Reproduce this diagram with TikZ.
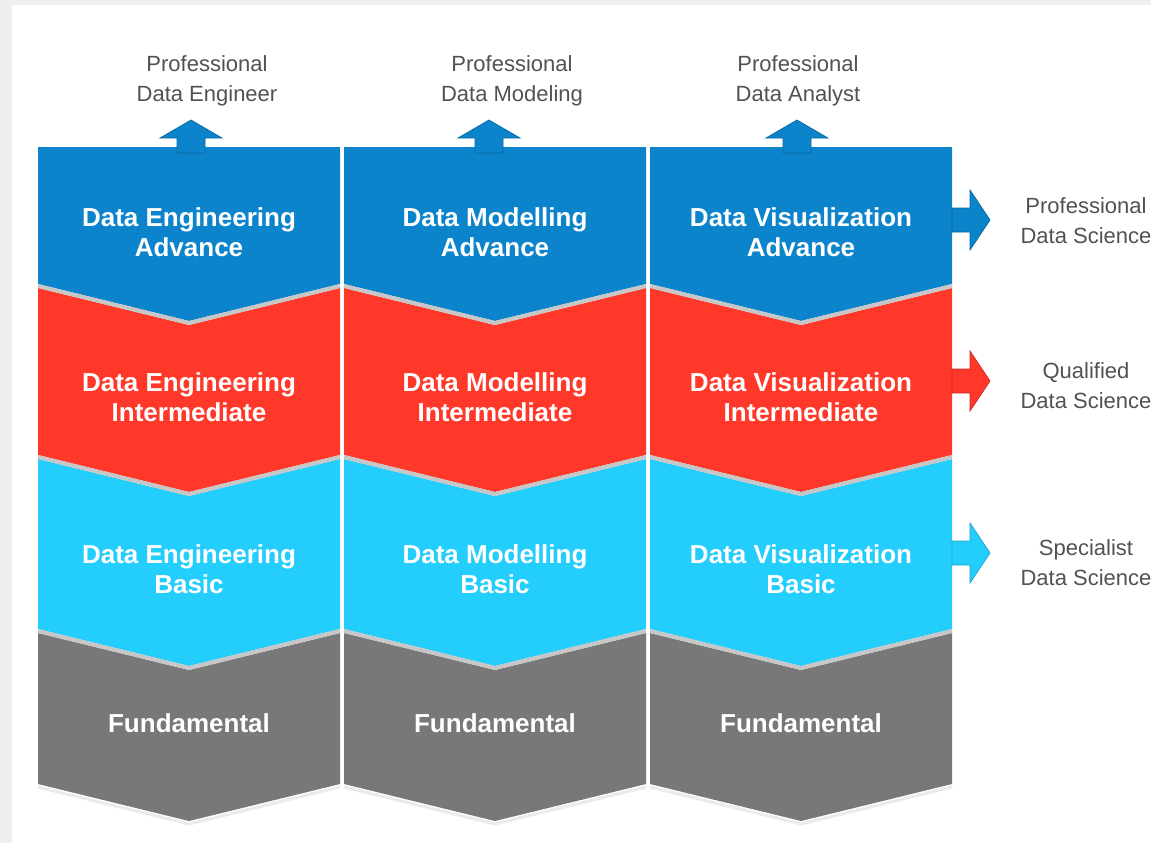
\documentclass[tikz,border=0pt]{standalone}
\usepackage{fontspec}
\setmainfont{Liberation Sans}
\usetikzlibrary{positioning}
\definecolor{advblue}{HTML}{0B84CC}
\definecolor{intred}{HTML}{FF3829}
\definecolor{basiccyan}{HTML}{23CDFC}
\definecolor{fundgray}{HTML}{787878}
\definecolor{framegray}{HTML}{EFEFEF}
\tikzset{
    level text/.style = {
      text=white, align=center, font=\fontsize{26}{30}\selectfont\bfseries,
    },
    goal text/.style = {
      text=black!68, align=center, font=\fontsize{22}{30}\selectfont,
    },
    band edge/.style = {
      black!22, line width=4pt,
    },
    block arrow/.style = {
      draw=#1!80!black, fill=#1, line width=0.7pt, line join=miter,
    },
}
% chevron band: left x, top y (sides), bottom y (sides), colour, notch depth on top
\newcommand{\chevron}[5]{%
  \fill[#4] (#1,#2) -- (#1+151,#2+#5) -- (#1+302,#2) -- (#1+302,#3)
    -- (#1+151,#3+37) -- (#1,#3) -- cycle;
}
\newcommand{\toparrow}[1]{%
  \draw[block arrow=advblue] (#1-14,153) -- (#1-14,138) -- (#1-31,138) -- (#1,120)
    -- (#1+31,138) -- (#1+14,138) -- (#1+14,153) -- cycle;
}
\newcommand{\sidearrow}[2]{%
  \draw[block arrow=#2] (952,#1-12) -- (970,#1-12) -- (970,#1-30) -- (990,#1)
    -- (970,#1+30) -- (970,#1+12) -- (952,#1+12) -- cycle;
}

\begin{document}
\begin{tikzpicture}[x=1pt, y=-1pt]
    %% Frame
    \fill[framegray] (0,0) rectangle (1151,843);
    \fill[white] (12,5) rectangle (1151,843);
    \useasboundingbox (0,0) rectangle (1151,843);

    %% Bands of the three columns
    \foreach \x in {38, 344, 650}{%
      \chevron{\x}{633}{784}{fundgray}{37}
      \chevron{\x}{459}{629}{basiccyan}{37}
      \chevron{\x}{288}{455}{intred}{37}
      \chevron{\x}{147}{284}{advblue}{0}
      \foreach \y in {286, 457, 631}{%
        \draw[band edge] (\x,\y) -- (\x+151,\y+37) -- (\x+302,\y);
      }
      \draw[black!8, line width=3pt] (\x,787) -- (\x+151,824) -- (\x+302,787);
    }

    %% Arrows to the goals
    \toparrow{191}
    \toparrow{489}
    \toparrow{797}
    \sidearrow{220}{advblue}
    \sidearrow{381}{intred}
    \sidearrow{553}{basiccyan}

    %% Level names
    \node[level text] (eng-adv) at (189,232) {Data Engineering\\Advance};
    \node[level text] (mod-adv) at (495,232) {Data Modelling\\Advance};
    \node[level text] (viz-adv) at (801,232) {Data Visualization\\Advance};
    \node[level text] (eng-int) at (189,397) {Data Engineering\\Intermediate};
    \node[level text] (mod-int) at (495,397) {Data Modelling\\Intermediate};
    \node[level text] (viz-int) at (801,397) {Data Visualization\\Intermediate};
    \node[level text] (eng-bas) at (189,569) {Data Engineering\\Basic};
    \node[level text] (mod-bas) at (495,569) {Data Modelling\\Basic};
    \node[level text] (viz-bas) at (801,569) {Data Visualization\\Basic};
    \node[level text] (eng-fun) at (189,723) {Fundamental};
    \node[level text] (mod-fun) at (495,723) {Fundamental};
    \node[level text] (viz-fun) at (801,723) {Fundamental};

    %% Goals
    \node[goal text] (pro-eng) at (207,81) {Professional\\Data Engineer};
    \node[goal text] (pro-mod) at (512,81) {Professional\\Data Modeling};
    \node[goal text] (pro-ana) at (798,81) {Professional\\Data Analyst};
    \node[goal text] (ds-pro) at (1086,221) {Professional\\Data Science};
    \node[goal text] (ds-qua) at (1086,386) {Qualified\\Data Science};
    \node[goal text] (ds-spe) at (1086,563) {Specialist\\Data Science};
\end{tikzpicture}
\end{document}
